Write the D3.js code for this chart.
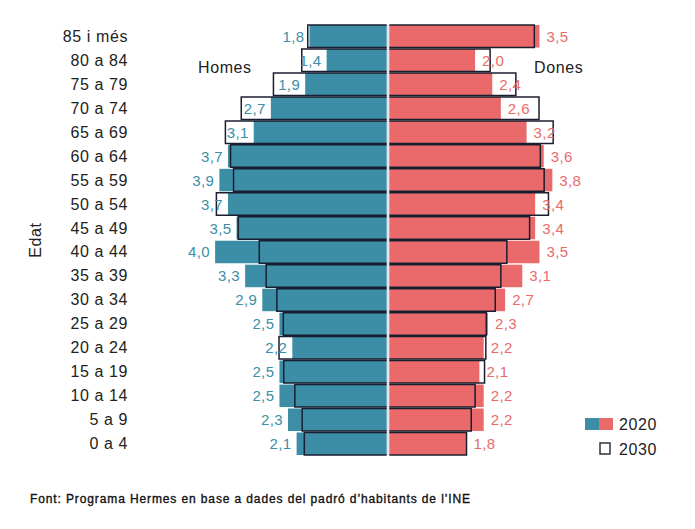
<!DOCTYPE html>
<meta charset="utf-8">
<script src="https://d3js.org/d3.v7.min.js"></script>
<style>
  body { margin: 0; background: #fff; }
  text { font-family: "Liberation Sans", Arial, sans-serif; }
  .age { font-size: 16px; fill: #222; letter-spacing: 0.6px; }
  .val { font-size: 15px; letter-spacing: 0.4px; }
</style>
<div id="chart"></div>
<script>
  // age groups, top to bottom
  var ages = ["85 i més", "80 a 84", "75 a 79", "70 a 74", "65 a 69", "60 a 64",
              "55 a 59", "50 a 54", "45 a 49", "40 a 44", "35 a 39", "30 a 34",
              "25 a 29", "20 a 24", "15 a 19", "10 a 14", "5 a 9", "0 a 4"];

  // % of population
  var homes2020 = [1.8, 1.4, 1.9, 2.7, 3.1, 3.7, 3.9, 3.7, 3.5, 4.0, 3.3, 2.9, 2.5, 2.2, 2.5, 2.5, 2.3, 2.1];
  var dones2020 = [3.5, 2.0, 2.4, 2.6, 3.2, 3.6, 3.8, 3.4, 3.4, 3.5, 3.1, 2.7, 2.3, 2.2, 2.1, 2.2, 2.2, 1.8];
  var homes2030 = [1.84, 1.98, 2.64, 3.39, 3.76, 3.64, 3.57, 3.97, 3.46, 2.97, 2.81, 2.56, 2.41, 2.51, 2.4, 2.14, 1.97, 1.92];
  var dones2030 = [3.38, 2.35, 2.95, 3.49, 3.82, 3.52, 3.61, 3.71, 3.27, 2.74, 2.6, 2.47, 2.26, 2.25, 2.22, 2.0, 1.91, 1.8];

  var legendYears = ["2020", "2030"];

  var width = 695, height = 529;
  var blue = "#3b8ea6", pink = "#ea6a6b", edge = "#1b1e30";
  var mid = 388, gap = 1.3;

  var svg = d3.select("#chart").append("svg")
      .attr("width", width)
      .attr("height", height);

  var x = d3.scaleLinear().domain([0, 4]).range([0, 171.6]);
  var y = d3.scaleBand().domain(ages).range([25, 455]).paddingInner(0.06);
  var h = y.bandwidth();

  var xM = function(v) { return mid - gap - x(v); };
  var xF = function(v) { return mid + gap + x(v); };

  // centre line
  svg.append("line")
    .attr("x1", mid).attr("x2", mid)
    .attr("y1", y.range()[0]).attr("y2", y.range()[1])
    .attr("stroke", "#dcdcdc").attr("stroke-width", 1.5);

  // 2020 bars
  svg.append("g").selectAll("rect")
    .data(ages)
    .enter().append("rect")
      .attr("x", function(d, i) { return xM(homes2020[i]); })
      .attr("y", function(d) { return y(d); })
      .attr("width", function(d, i) { return x(homes2020[i]); })
      .attr("height", h)
      .attr("fill", blue);

  svg.append("g").selectAll("rect")
    .data(ages)
    .enter().append("rect")
      .attr("x", mid + gap)
      .attr("y", function(d) { return y(d); })
      .attr("width", function(d, i) { return x(dones2020[i]); })
      .attr("height", h)
      .attr("fill", pink);

  // 2030 outlines, open at the centre
  function outline(side, vals) {
    return function(d, i) {
      var p = d3.path();
      var c = side < 0 ? mid - gap : mid + gap;
      var e = side < 0 ? xM(vals[i]) : xF(vals[i]);
      p.moveTo(c, y(d));
      p.lineTo(e, y(d));
      p.lineTo(e, y(d) + h);
      p.lineTo(c, y(d) + h);
      return p.toString();
    };
  }

  svg.append("g").selectAll("path")
    .data(ages)
    .enter().append("path")
      .attr("d", outline(-1, homes2030))
      .attr("fill", "none").attr("stroke", edge).attr("stroke-width", 1.5);

  svg.append("g").selectAll("path")
    .data(ages)
    .enter().append("path")
      .attr("d", outline(1, dones2030))
      .attr("fill", "none").attr("stroke", edge).attr("stroke-width", 1.5);

  var fmt = function(v) { return d3.format(".1f")(v).replace(".", ","); };

  // value labels (2020)
  svg.append("g").selectAll("text")
    .data(ages)
    .enter().append("text")
      .attr("class", "val")
      .attr("x", function(d, i) { return xM(homes2020[i]) - 5; })
      .attr("y", function(d) { return y(d) + h / 2 + 5.5; })
      .attr("text-anchor", "end")
      .attr("fill", blue)
      .text(function(d, i) { return fmt(homes2020[i]); });

  svg.append("g").selectAll("text")
    .data(ages)
    .enter().append("text")
      .attr("class", "val")
      .attr("x", function(d, i) { return xF(dones2020[i]) + 7; })
      .attr("y", function(d) { return y(d) + h / 2 + 5.5; })
      .attr("fill", pink)
      .text(function(d, i) { return fmt(dones2020[i]); });

  // age labels
  svg.append("g").selectAll("text")
    .data(ages)
    .enter().append("text")
      .attr("class", "age")
      .attr("x", 128)
      .attr("y", function(d) { return y(d) + h / 2 + 5.5; })
      .attr("text-anchor", "end")
      .text(function(d) { return d; });

  svg.append("text")
    .attr("class", "age")
    .attr("transform", "translate(41,240) rotate(-90)")
    .attr("text-anchor", "middle")
    .text("Edat");

  svg.append("text").attr("class", "age").attr("x", 198).attr("y", 73).text("Homes");
  svg.append("text").attr("class", "age").attr("x", 534).attr("y", 73).text("Dones");

  // legend
  var lg = svg.append("g").attr("transform", "translate(585,418)");
  lg.append("rect").attr("width", 14).attr("height", 12).attr("fill", blue);
  lg.append("rect").attr("x", 14).attr("width", 14).attr("height", 12).attr("fill", pink);
  lg.append("rect").attr("x", 15).attr("y", 25).attr("width", 10).attr("height", 11)
    .attr("fill", "none").attr("stroke", "#333").attr("stroke-width", 1.5);
  lg.selectAll("text.leg")
    .data(legendYears)
    .enter().append("text")
      .attr("class", "age leg")
      .attr("x", 34)
      .attr("y", function(d, i) { return 11.5 + i * 25.5; })
      .text(function(d) { return d; });

  // source
  svg.append("text")
    .attr("x", 30).attr("y", 503)
    .attr("font-size", 12)
    .attr("fill", "#111")
    .attr("stroke", "#111")
    .attr("stroke-width", 0.35)
    .attr("textLength", 440)
    .attr("lengthAdjust", "spacing")
    .text("Font: Programa Hermes en base a dades del padró d’habitants de l’INE");
</script>
